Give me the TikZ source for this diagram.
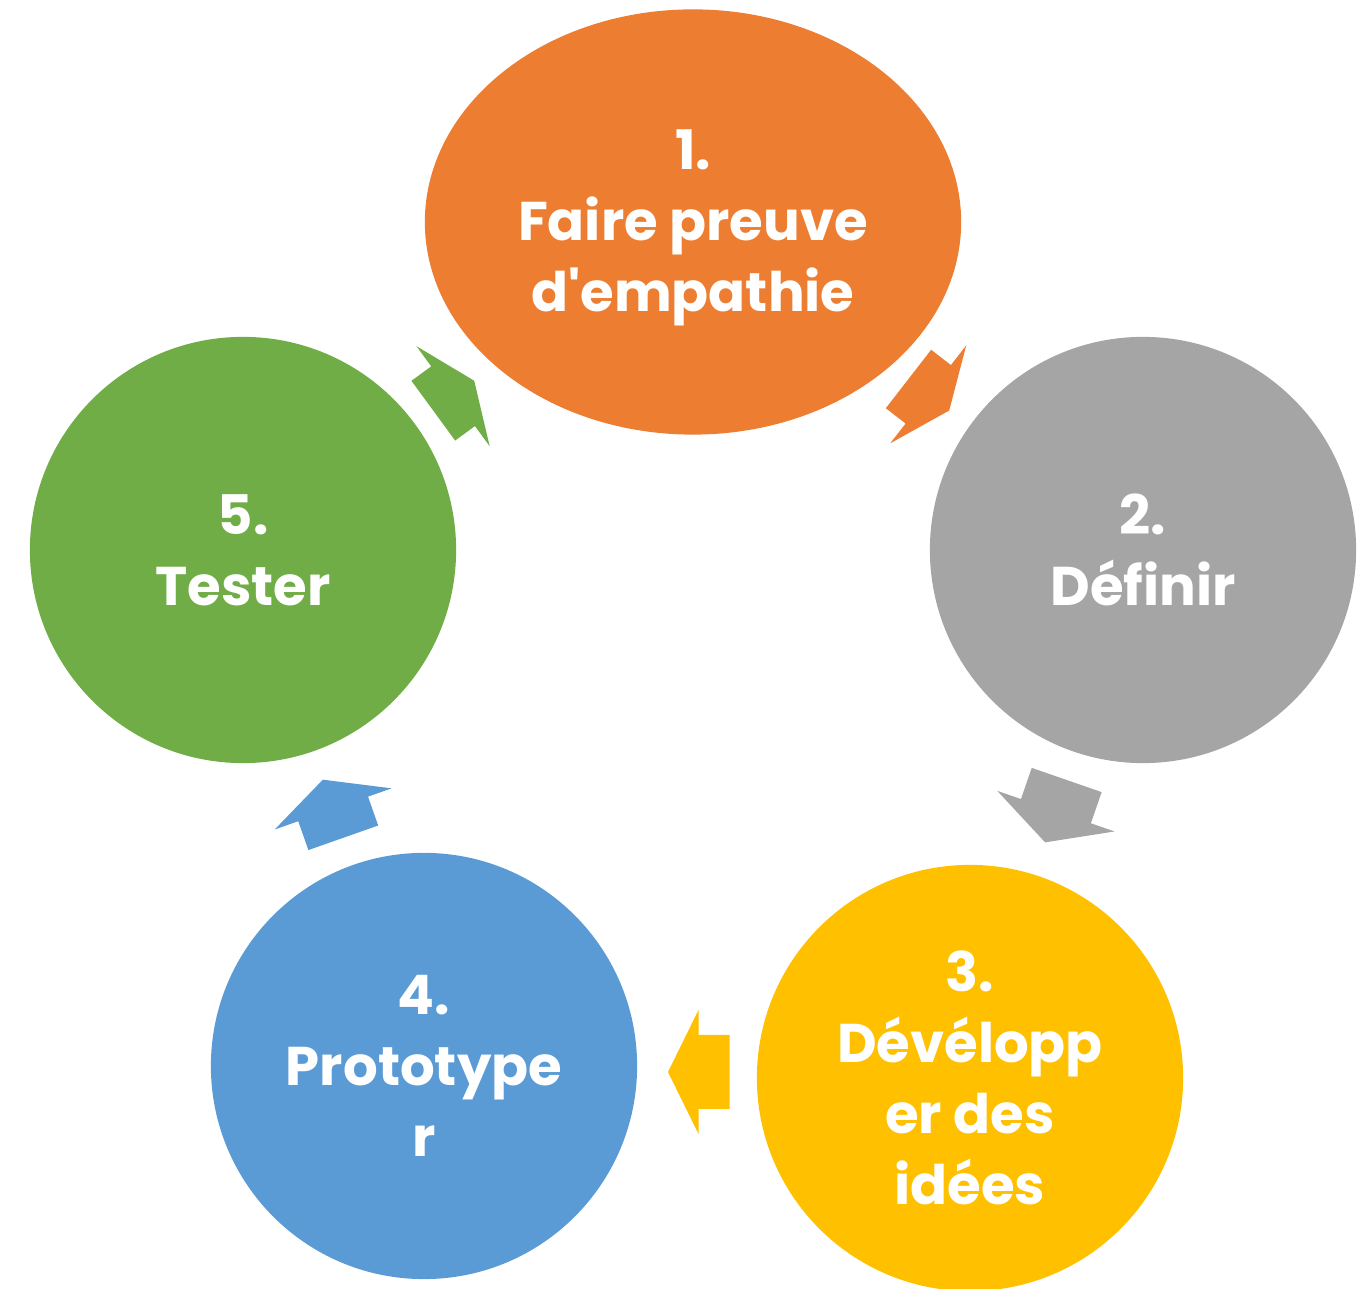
\documentclass[tikz,border=0pt]{standalone}
\usepackage{fontspec}
\setmainfont{Poppins}[Ligatures=TeXOff]
\usetikzlibrary{shapes.geometric}
\definecolor{cOrange}{HTML}{ED7D31}
\definecolor{cGray}{HTML}{A5A5A5}
\definecolor{cYellow}{HTML}{FFC000}
\definecolor{cBlue}{HTML}{5B9BD5}
\definecolor{cGreen}{HTML}{70AD47}
\newcommand\stagefont{\fontsize{15.5pt}{20.2pt}\selectfont\bfseries}
% block arrow: colour, tail x, tail y, angle, shaft length, head length
\newcommand\cyclearrow[6]{%
  \fill[#1, shift={(#2,#3)}, rotate=#4]
    (0,-37) -- (#5,-37) -- (#5,-62) -- ({#5+#6},0) -- (#5,62) -- (#5,37) -- (0,37) -- cycle;}
\begin{document}
\begin{tikzpicture}[x=0.01cm, y=-0.01cm,
  stage/.style={circle, minimum size=4.26cm, inner sep=0pt, text=white,
    font=\stagefont, align=center},
  stageoval/.style={ellipse, minimum width=5.36cm, minimum height=4.25cm,
    inner sep=0pt},
  stagetext/.style={inner sep=0pt, text=white, font=\stagefont, align=center}]
\useasboundingbox (0,0) rectangle (1360,1289);

\node[stageoval, fill=cOrange] (s1) at (693,222) {};
\node[stagetext] (s1text) at ([yshift=-0.06cm]s1.center) {1.\\Faire preuve\\d'empathie};
\node[stage, fill=cGray]   (s2) at (1143,550) {2.\\Définir};
\node[stage, fill=cYellow] (s3) at (970,1078) {3.\\Dévélopp\\er des\\idées};
\node[stage, fill=cBlue]   (s4) at (424,1066) {4.\\Prototype\\r};
\node[stage, fill=cGreen]  (s5) at (243,550)  {5.\\Tester};

\cyclearrow{cOrange}{908.5}{379}{-37.8}{25}{26.5}
\cyclearrow{cGray}{1066.7}{780}{-109.1}{33}{33}
\cyclearrow{cYellow}{729.5}{1072}{180}{31}{30.5}
\cyclearrow{cBlue}{343.3}{837.8}{109.4}{30.6}{31}
\cyclearrow{cGreen}{433.3}{410.7}{36.2}{24.5}{26.2}
\end{tikzpicture}
\end{document}
